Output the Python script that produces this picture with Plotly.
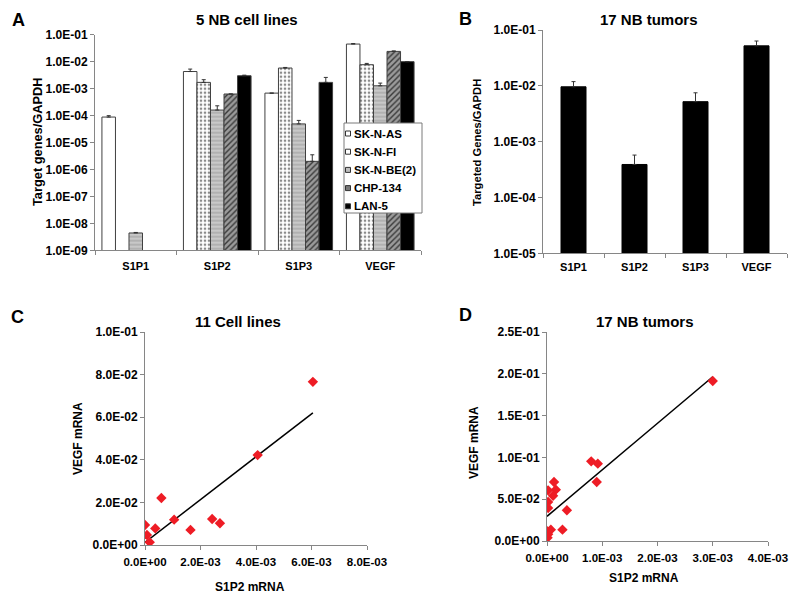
import numpy as np
import plotly.graph_objects as go

# ---------------- data ----------------
genes = ["S1P1", "S1P2", "S1P3", "VEGF"]
cell_lines = ["SK-N-AS", "SK-N-FI", "SK-N-BE(2)", "CHP-134", "LAN-5"]

sk_n_as = [8.8e-5, 4.3e-3, 6.8e-4, 4.5e-2]
sk_n_as_err = [1.1e-5, 1.0e-3, 0, 2.0e-3]
sk_n_fi = [None, 1.7e-3, 5.8e-3, 7.7e-3]
sk_n_fi_err = [0, 4.4e-4, 3.0e-4, 9.0e-4]
sk_n_be2 = [4.4e-9, 1.6e-4, 4.9e-5, 1.27e-3]
sk_n_be2_err = [2e-10, 7.0e-5, 1.7e-5, 3.3e-4]
chp_134 = [None, 6.3e-4, 2.0e-6, 2.4e-2]
chp_134_err = [0, 0, 1.5e-6, 1.0e-3]
lan_5 = [None, 3.0e-3, 1.7e-3, 1.0e-2]
lan_5_err = [0, 1.5e-4, 9.0e-4, 0]

tumor_means = [9.6e-3, 3.9e-4, 5.2e-3, 5.2e-2]
tumor_err = [2.3e-3, 1.85e-4, 2.3e-3, 1.15e-2]

cells_s1p2 = [0.0, 0.00007, 0.00017, 0.00037, 0.00059, 0.00105, 0.00164, 0.00242, 0.0027, 0.00406, 0.00605]
cells_vegf = [0.0094, 0.0047, 0.0013, 0.0078, 0.0221, 0.0119, 0.0071, 0.0122, 0.0102, 0.0422, 0.0766]

tumor_s1p2 = [0.0030, 0.0008, 0.00092, 0.0009, 0.000127, 0.00016, 0.00011, 0.00002, 0.00002,
              0.00002, 0.00036, 0.00028, 0.00007, 0.0, 0.00001, 0.00002, 0.00001]
tumor_vegf = [0.1914, 0.0953, 0.0925, 0.0706, 0.0706, 0.0614, 0.0542, 0.0606, 0.0467,
              0.0395, 0.0367, 0.0136, 0.0136, 0.0116, 0.0110, 0.0080, 0.0040]

log_ticks_a = [1e-9, 1e-8, 1e-7, 1e-6, 1e-5, 1e-4, 1e-3, 1e-2, 1e-1]
log_ticks_b = [1e-5, 1e-4, 1e-3, 1e-2, 1e-1]
c_xticks = [0, 0.002, 0.004, 0.006, 0.008]
c_yticks = [0, 0.02, 0.04, 0.06, 0.08, 0.1]
d_xticks = [0, 0.001, 0.002, 0.003, 0.004]
d_yticks = [0, 0.05, 0.10, 0.15, 0.20, 0.25]

def sci(v):
    return f"{v:.1E}"

FONT = "Liberation Sans, Arial, sans-serif"
AXC = "#868686"
EDGE = "#404040"

fig = go.Figure()

# name, values, errors, fill, pattern shape, pattern fg, pattern bg, legend swatch colour
series = [
    (cell_lines[0], sk_n_as, sk_n_as_err, "white", "", "#000000", "white", "white"),
    (cell_lines[1], sk_n_fi, sk_n_fi_err, "white", ".", "#8a8a8a", "white", "white"),
    (cell_lines[2], sk_n_be2, sk_n_be2_err, "#bdbdbd", "-", "#a8a8a8", "#c8c8c8", "#bdbdbd"),
    (cell_lines[3], chp_134, chp_134_err, "#8c8c8c", "/", "#3a3a3a", "#9a9a9a", "#777777"),
    (cell_lines[4], lan_5, lan_5_err, "black", "", "#000000", "black", "black"),
]
for name, vals, err, color, shape, fg, bg, _ in series:
    pattern = dict(shape=shape, fgcolor=fg, bgcolor=bg, size=4, solidity=0.35, fillmode="replace") if shape else dict(shape="")
    fig.add_trace(go.Bar(
        x=genes, y=vals, name=name, xaxis="x", yaxis="y", showlegend=False,
        marker=dict(color=color, line=dict(color=EDGE, width=1), pattern=pattern),
        error_y=dict(type="data", symmetric=False, array=err, arrayminus=[0] * len(err),
                     color="#333333", thickness=1, width=2),
    ))

fig.add_trace(go.Bar(
    x=genes, y=tumor_means, name="17 NB tumors", showlegend=False, xaxis="x2", yaxis="y2",
    width=0.41, marker=dict(color="black", line=dict(color="black", width=1)),
    error_y=dict(type="data", symmetric=False, array=tumor_err, arrayminus=[0] * 4,
                 color="#333333", thickness=1, width=2),
))

def trend(xs, ys):
    xs = np.asarray(xs); ys = np.asarray(ys)
    m, b = np.polyfit(xs, ys, 1)
    xl = np.array([xs.min(), xs.max()])
    return xl, m * xl + b

xl, yl = trend(cells_s1p2, cells_vegf)
fig.add_trace(go.Scatter(x=xl, y=yl, mode="lines", line=dict(color="black", width=1.5),
                         showlegend=False, xaxis="x3", yaxis="y3"))
fig.add_trace(go.Scatter(x=cells_s1p2, y=cells_vegf, mode="markers",
                         marker=dict(symbol="diamond", color="#ee1c25", size=8),
                         showlegend=False, xaxis="x3", yaxis="y3"))
xl, yl = trend(tumor_s1p2, tumor_vegf)
fig.add_trace(go.Scatter(x=xl, y=yl, mode="lines", line=dict(color="black", width=1.5),
                         showlegend=False, xaxis="x4", yaxis="y4"))
fig.add_trace(go.Scatter(x=tumor_s1p2, y=tumor_vegf, mode="markers",
                         marker=dict(symbol="diamond", color="#ee1c25", size=8),
                         showlegend=False, xaxis="x4", yaxis="y4"))

W, H = 800, 602
def dx(a, b): return [a / W, b / W]
def dy(top, bottom): return [1 - bottom / H, 1 - top / H]

def tf(size):
    return dict(family=FONT, size=size, color="black", weight="bold")

common = dict(showline=True, linecolor=AXC, linewidth=1, showgrid=False, zeroline=False,
              ticks="outside", tickcolor=AXC, ticklen=4, automargin=False)

fig.update_layout(
    width=W, height=H, margin=dict(l=0, r=0, t=0, b=0, autoexpand=False),
    paper_bgcolor="white", plot_bgcolor="white", showlegend=False,
    barmode="group", bargap=0.17, bargroupgap=0,
    font=dict(family=FONT, color="black"),
    xaxis=dict(domain=dx(95, 421), anchor="y", type="category", tickson="boundaries",
               ticklabelstandoff=5, tickfont=tf(11), **common),
    yaxis=dict(domain=dy(34.7, 250.3), anchor="x", type="log", range=[-9, -1],
               tickvals=log_ticks_a, ticktext=[sci(v) for v in log_ticks_a], tickfont=tf(12), **common),
    xaxis2=dict(domain=dx(543, 787), anchor="y2", type="category", tickson="boundaries",
                ticklabelstandoff=3, tickfont=tf(11), **common),
    yaxis2=dict(domain=dy(30, 253.3), anchor="x2", type="log", range=[-5, -1],
                tickvals=log_ticks_b, ticktext=[sci(v) for v in log_ticks_b], tickfont=tf(12), **common),
    xaxis3=dict(domain=dx(145, 367), anchor="y3", range=[0, 0.008],
                tickvals=c_xticks, ticktext=[sci(v) for v in c_xticks], ticklabelstandoff=2,
                tickfont=tf(11.5), **common),
    yaxis3=dict(domain=dy(332, 545), anchor="x3", range=[0, 0.1],
                tickvals=c_yticks, ticktext=[sci(v) for v in c_yticks], tickfont=tf(12), **common),
    xaxis4=dict(domain=dx(547, 768), anchor="y4", range=[0, 0.004],
                tickvals=d_xticks, ticktext=[sci(v) for v in d_xticks], ticklabelstandoff=2,
                tickfont=tf(11.5), **common),
    yaxis4=dict(domain=dy(332, 541), anchor="x4", range=[0, 0.25],
                tickvals=d_yticks, ticktext=[sci(v) for v in d_yticks], tickfont=tf(12), **common),
)

def ann(text, x, y, size, rot=0, xanchor="center"):
    fig.add_annotation(text=text, x=x / W, y=1 - y / H, xref="paper", yref="paper",
                       showarrow=False, textangle=rot, xanchor=xanchor, yanchor="middle",
                       font=tf(size))

ann("A", 18, 20, 18)
ann("B", 465, 19, 18)
ann("C", 17, 317, 18)
ann("D", 465, 315, 18)
ann("5 NB cell lines", 247, 20, 15)
ann("17 NB tumors", 649, 19, 15)
ann("11 Cell lines", 238, 322, 15)
ann("17 NB tumors", 645, 321, 15)
ann("Target genes/GAPDH", 37, 142, 12.8, -90)
ann("Targeted Genes/GAPDH", 477, 142, 11.2, -90)
ann("VEGF mRNA", 78, 439, 12, -90)
ann("VEGF mRNA", 474, 443, 12, -90)
ann("S1P2 mRNA", 250, 587, 12)
ann("S1P2 mRNA", 644, 578, 12)

# legend box for panel A (cell lines)
fig.add_shape(type="rect", xref="paper", yref="paper",
              x0=344 / W, x1=422 / W, y0=1 - 213 / H, y1=1 - 123 / H,
              line=dict(color="#7a7a7a", width=1), fillcolor="white", layer="above")
for i, (name, *_rest) in enumerate(series):
    swatch = _rest[-1]
    yc = 133.5 + i * 18.2
    fig.add_shape(type="rect", xref="paper", yref="paper",
                  x0=345.5 / W, x1=350.5 / W, y0=1 - (yc + 2.5) / H, y1=1 - (yc - 2.5) / H,
                  line=dict(color="#333333", width=1), fillcolor=swatch, layer="above")
    ann(name, 352, yc, 11.5, xanchor="left")

fig.write_html("out.html", config={"displayModeBar": False},
               post_script="document.body.style.margin='0';document.body.style.overflow='hidden';")
